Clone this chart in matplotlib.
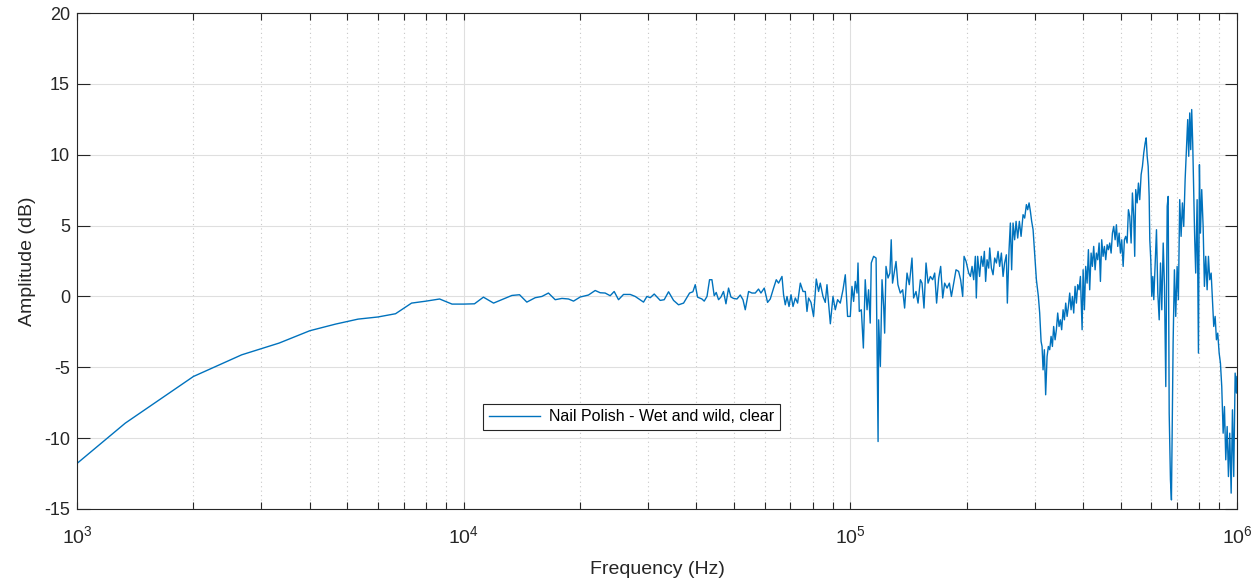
import numpy as np
import matplotlib.pyplot as plt
from matplotlib.ticker import LogLocator, NullFormatter

plt.rcParams['font.family'] = ['Liberation Sans', 'DejaVu Sans']
plt.rcParams['axes.unicode_minus'] = False
plt.rcParams['mathtext.fontset'] = 'custom'
plt.rcParams['mathtext.rm'] = 'Liberation Sans'
plt.rcParams['mathtext.it'] = 'Liberation Sans'
plt.rcParams['mathtext.bf'] = 'Liberation Sans'

# low band, measured on a 666.7 Hz grid
freq_low_hz = [666.7, 1333.3, 2000, 2666.7, 3333.3, 4000, 4666.7, 5333.3,
               6000, 6666.7, 7333.3, 8000, 8666.7, 9333.3, 10000, 10666.7]
amp_low_db = [-15.8, -8.94, -5.65, -4.12, -3.29, -2.42, -1.95, -1.6,
              -1.45, -1.22, -0.47, -0.33, -0.18, -0.54, -0.54, -0.52]

# 11 kHz - 100 kHz
freq_mid_khz = [11.25, 11.95, 12.68, 13.33, 13.95, 14.57, 15.31, 15.94, 16.57, 17.25,
                17.96, 18.67, 19.24, 20.02, 21.03, 21.89, 22.55, 23.23, 23.93, 24.51,
                25.15, 25.91, 26.97, 27.78, 29.19, 29.79, 30.38, 31.11, 32.24, 33.02,
                33.88, 34.91, 35.96, 37.05, 38.40, 39.17, 39.72, 40.27, 41.33, 41.9,
                42.6, 43.25, 43.87, 44.47, 45.0, 45.63, 46.29, 47.0, 47.69, 48.43,
                49.12, 49.9, 50.92, 51.93, 52.78, 53.5, 54.57, 55.68, 56.78, 57.9,
                58.74, 59.91, 61.1, 62.09, 63.33, 64.35, 65.24, 66.58, 67.21, 67.9,
                68.6, 69.43, 70.26, 71.1, 72.08, 73.07, 74.26, 75.46, 76.5, 77.27,
                78.0, 79.13, 80.35, 81.66, 82.79, 83.63, 84.99, 86.16, 87.04, 88.8,
                90.21, 91.45, 92.72, 94.21, 95.75, 97.07, 98.4, 100.0]
amp_mid_db = [-0.05, -0.47, -0.18, 0.07, 0.12, -0.40, -0.09, 0.00, 0.24, -0.23,
              -0.14, -0.18, -0.33, -0.04, 0.10, 0.42, 0.26, 0.24, 0.05, 0.35,
              -0.23, 0.14, 0.14, 0.00, -0.40, 0.00, -0.09, 0.17, -0.28, -0.23,
              0.33, -0.28, -0.59, -0.47, 0.24, 0.33, 0.83, -0.05, -0.18, -0.33,
              0.00, 1.18, 1.18, 0.05, 0.28, -0.23, -0.04, 0.35, -0.52, 0.59,
              -0.04, -0.14, -0.18, 0.10, -0.23, -0.94, 0.35, 0.24, 0.24, 0.52,
              0.24, 0.59, -0.42, -0.18, 0.59, 1.18, 0.94, 1.41, 0.12, -0.59,
              0.00, -0.71, 0.12, -0.71, -0.11, -0.47, 0.94, 0.35, 0.35, -1.06,
              -0.11, -0.42, -1.41, 1.23, 0.35, 0.94, 0.00, -0.42, 0.83, -1.93,
              0.00, -0.94, -0.23, -0.47, 0.47, 1.53, -1.41, -1.41]

# 100 kHz - 1 MHz
freq_high_khz = [101.0, 102.0, 103.0, 104.1, 104.7, 105.5, 106.8, 108.1, 109.3, 110.5,
                 111.5, 112.6, 113.3, 114.9, 116.6, 118.0, 118.4, 119.6, 120.8, 122.0,
                 122.7, 123.7, 125.2, 126.6, 127.6, 128.6, 130.2, 131.3, 132.8, 134.7,
                 136.6, 138.2, 140.2, 142.1, 144.4, 145.8, 147.9, 149.7, 151.8, 153.3,
                 155.1, 157.0, 158.9, 161.1, 163.3, 165.3, 167.2, 169.3, 171.3, 173.4,
                 175.4, 177.9, 180.4, 182.6, 185.1, 187.7, 190.6, 192.9, 195.3, 196.9,
                 199.3, 202.4, 204.5, 206.5, 208.5, 210.6, 211.8, 213.5, 216.0, 218.2,
                 220.4, 222.2, 223.9, 225.8, 228.0, 229.4, 231.7, 234.0, 236.3, 238.7,
                 241.1, 243.4, 245.9, 248.4, 250.7, 253.3, 254.8, 257.4, 259.4, 261.4,
                 263.6, 266.1, 268.4, 271.0, 273.7, 276.5, 279.8, 282.5, 285.4, 287.6,
                 290.0, 292.3, 294.5, 297.0, 299.3, 302.9, 306.5, 308.9, 311.5, 313.3,
                 315.2, 317.6, 320.1, 322.8, 325.3, 327.9, 330.6, 333.2, 335.7, 338.6,
                 341.2, 343.9, 346.7, 349.4, 352.1, 355.1, 357.9, 360.7, 363.7, 366.5,
                 369.4, 372.4, 375.4, 378.3, 381.4, 384.4, 387.4, 390.6, 393.7, 397.7,
                 400.1, 403.2, 406.3, 409.7, 412.9, 416.1, 419.6, 422.8, 426.1, 429.7,
                 433.0, 436.4, 440.1, 443.5, 446.9, 450.6, 454.2, 457.8, 461.6, 465.1,
                 468.8, 472.7, 476.4, 480.1, 484.1, 487.8, 491.7, 495.8, 499.7, 503.5,
                 507.8, 511.6, 515.6, 519.9, 524.0, 528.1, 532.5, 536.6, 540.8, 544.0,
                 547.3, 551.9, 556.2, 560.5, 565.2, 569.6, 574.1, 578.9, 582.4, 585.9,
                 589.4, 592.9, 595.1, 598.6, 602.2, 605.9, 609.4, 614.6, 619.3, 624.2,
                 629.4, 634.3, 639.2, 644.6, 649.5, 654.6, 660.1, 664.0, 668.0, 673.0,
                 677.0, 683.8, 689.1, 694.5, 700.3, 705.6, 711.2, 717.1, 722.7, 728.4,
                 734.5, 740.1, 745.9, 750.4, 754.9, 759.4, 763.8, 768.4, 773.0, 777.7,
                 782.3, 788.9, 795.1, 799.8, 804.6, 810.8, 817.6, 823.9, 830.4, 837.3,
                 843.9, 850.5, 857.6, 864.2, 871.0, 878.3, 885.1, 891.9, 899.5, 906.4,
                 913.5, 921.1, 928.3, 935.6, 943.4, 950.6, 958.1, 966.1, 973.6, 981.1,
                 989.4, 997.0, 1000.0]
amp_high_db = [0.71, -0.35, 1.06, 0.24, 2.36, -1.06, -0.94, -3.64, 1.18, -0.94,
               0.47, -1.88, 2.36, 2.83, 2.71, -10.24, -1.65, -4.94, 1.18, -0.71,
               -2.59, 2.12, 1.30, 1.65, 4.00, 0.94, 1.88, 2.47, 0.83, 0.24,
               0.47, -0.82, 1.65, 0.83, 2.71, -0.11, 0.35, -0.47, 1.18, 0.94,
               -0.82, 2.36, 0.94, 1.41, 1.18, 1.65, -0.47, 1.30, 2.12, -0.11,
               0.94, 0.59, 0.94, 0.00, 0.94, 1.88, 1.77, 1.18, 0.00, 2.83,
               2.47, 1.65, 1.41, 2.12, 1.18, 2.83, -0.11, 2.83, 1.41, 2.83,
               2.12, 3.18, 1.06, 2.59, 2.00, 3.42, 2.00, 1.53, 2.71, 2.36,
               3.18, 2.12, 3.06, 1.41, 2.36, 2.94, -0.47, 3.30, 5.18, 1.88,
               5.18, 4.00, 5.30, 4.12, 5.30, 4.24, 5.77, 5.53, 6.48, 6.12,
               6.60, 6.00, 5.30, 4.71, 3.30, 1.18, 0.00, -1.17, -3.18, -3.53,
               -5.18, -3.76, -6.94, -4.24, -3.53, -3.76, -2.82, -3.53, -2.12, -3.06,
               -2.35, -1.17, -2.12, -1.65, -2.35, -0.94, -1.65, -0.47, -1.41, -0.71,
               0.24, -0.94, 0.00, -1.17, 0.71, -0.47, 0.83, 0.47, 1.41, -2.35,
               1.88, -0.94, 2.12, 0.94, 3.30, 0.47, 3.06, 2.12, 3.53, 1.88,
               3.06, 2.59, 3.77, 1.06, 4.00, 2.83, 3.53, 2.59, 3.65, 3.30,
               3.77, 3.06, 4.47, 4.94, 4.00, 5.06, 3.53, 4.47, 3.06, 4.00,
               2.12, 4.00, 4.24, 3.77, 6.12, 5.65, 3.77, 7.30, 5.65, 2.83,
               7.54, 6.60, 8.00, 6.83, 8.60, 9.18, 10.13, 10.83, 11.19, 9.89,
               9.18, 7.06, 4.00, 2.59, 0.00, 1.41, -0.23, 2.36, 4.71, 0.24,
               -1.65, 2.36, -0.94, 3.77, 0.71, -6.36, 6.36, 7.06, -8.24, -12.94,
               -14.36, -3.29, 1.88, -1.41, 2.12, -0.23, 6.83, 4.24, 6.60, 4.94,
               8.24, 10.36, 12.48, 9.89, 12.95, 10.36, 13.19, 10.83, 7.54, 4.00,
               1.65, 6.83, -4.00, 9.30, 4.47, 7.54, 4.94, 0.71, 2.83, 0.47,
               2.83, 1.18, 1.65, -0.23, -2.12, -1.41, -3.06, -2.59, -4.00, -4.71,
               -6.36, -9.65, -7.77, -11.53, -9.18, -12.71, -9.65, -13.88, -8.00, -12.71,
               -5.41, -6.82, -5.65]

freq = np.concatenate([freq_low_hz, np.array(freq_mid_khz) * 1e3, np.array(freq_high_khz) * 1e3])
amp = np.concatenate([amp_low_db, amp_mid_db, amp_high_db])

fig = plt.figure(figsize=(12.6, 5.79), dpi=100)
ax = fig.add_axes([0.0611, 0.1209, 0.9206, 0.8566])

ax.semilogx(freq, amp, color='#0072BD', lw=1.0, label='Nail Polish - Wet and wild, clear')

ax.set_xlim(1e3, 1e6)
ax.set_ylim(-15, 20)
ax.set_yticks(np.arange(-15, 21, 5))
ax.xaxis.set_minor_locator(LogLocator(base=10, subs=np.arange(2, 10), numticks=20))
ax.xaxis.set_minor_formatter(NullFormatter())

ax.grid(True, which='major', color='#dfdfdf', lw=0.8, ls='-')
ax.grid(True, which='minor', axis='x', color='#c8c8c8', lw=0.8, ls=(0, (1, 3)))
ax.set_axisbelow(True)

axis_col = '#262626'
for s in ax.spines.values():
    s.set_color(axis_col)
    s.set_linewidth(0.8)
ax.tick_params(which='both', direction='in', top=True, right=True, colors=axis_col,
               labelsize=13, width=0.8)
ax.tick_params(axis='x', which='major', labelsize=14)
ax.tick_params(axis='x', which='both', length=5, pad=12)
ax.tick_params(axis='y', which='major', length=9, pad=5)

ax.set_xlabel('Frequency (Hz)', fontsize=14, color=axis_col, labelpad=10)
ax.set_ylabel('Amplitude (dB)', fontsize=14, color=axis_col, labelpad=6)

leg = ax.legend(loc='center', bbox_to_anchor=(0.478, 0.186), fontsize=11.5,
                fancybox=False, framealpha=1, edgecolor=axis_col,
                handlelength=3.2, borderpad=0.35, handletextpad=0.6)
leg.get_frame().set_linewidth(0.8)

fig.savefig('out.png', dpi=100)
